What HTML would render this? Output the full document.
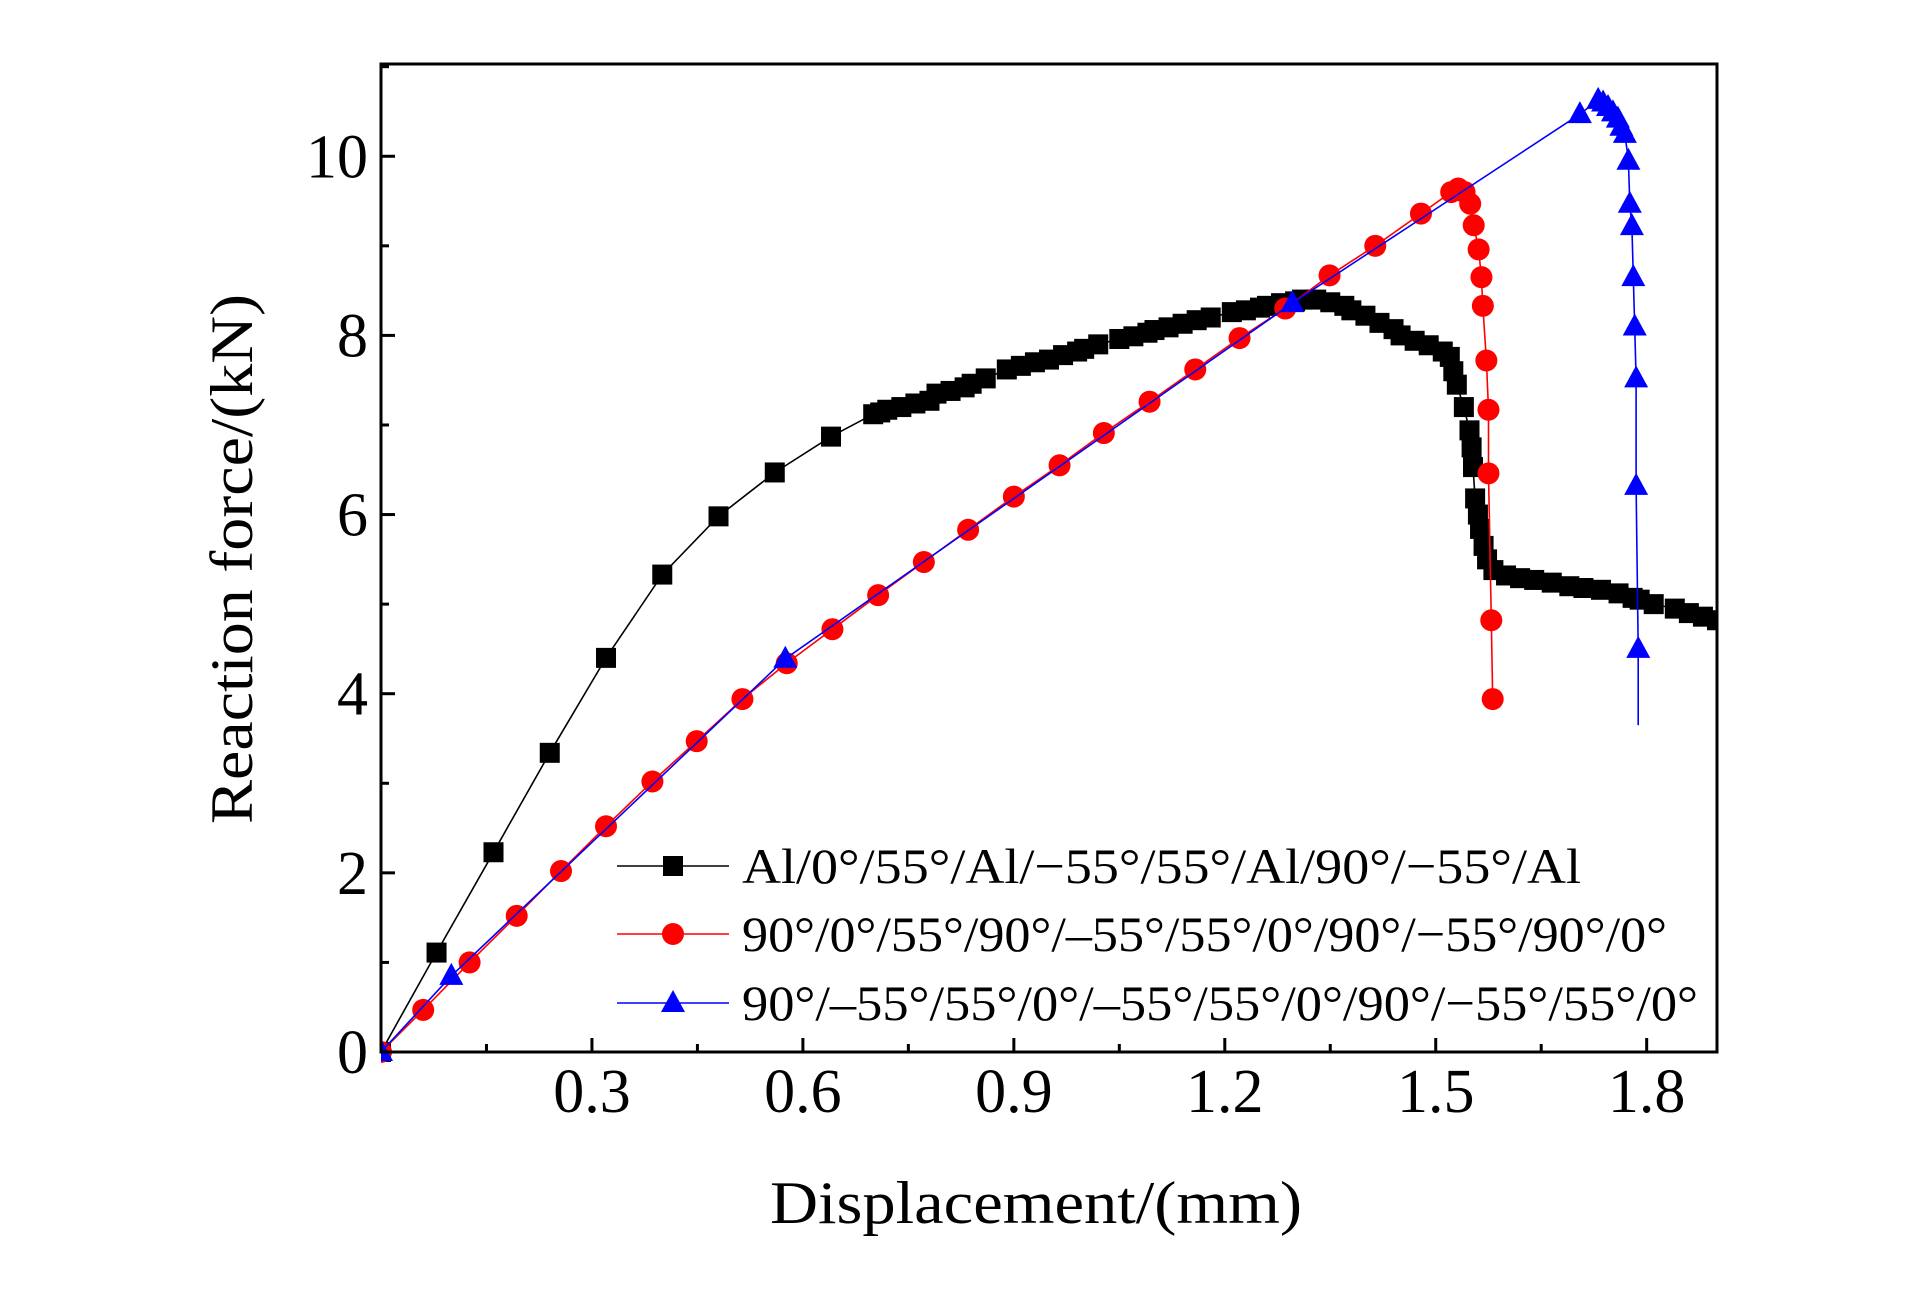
<!DOCTYPE html>
<html><head><meta charset="utf-8">
<style>
html,body{margin:0;padding:0;background:#fff;}
svg{display:block;}
text{font-family:"Liberation Serif","DejaVu Serif",serif;fill:#000;}
</style></head>
<body>
<svg id="chart" width="1923" height="1299" viewBox="0 0 1923 1299" xmlns="http://www.w3.org/2000/svg">
<rect x="0" y="0" width="1923" height="1299" fill="#fff"/>
<g id="grid-layer"></g>
<g id="series-layer"></g>
<g id="axis-layer"></g>
<g id="legend-layer"></g>
</svg>
<script>
const xTicks = [0.3, 0.6, 0.9, 1.2, 1.5, 1.8];
const xTickLabels = ["0.3", "0.6", "0.9", "1.2", "1.5", "1.8"];
const yTicks = [0, 2, 4, 6, 8, 10];
const yTickLabels = ["0", "2", "4", "6", "8", "10"];
const seriesNames = ["Al/0°/55°/Al/−55°/55°/Al/90°/−55°/Al", "90°/0°/55°/90°/–55°/55°/0°/90°/−55°/90°/0°", "90°/–55°/55°/0°/–55°/55°/0°/90°/−55°/55°/0°"];
const blackX = [0,0.079,0.16,0.24,0.32,0.40,0.48,0.56,0.64,0.70,0.71,0.72,0.74,0.76,0.78,0.79,0.81,0.83,0.84,0.86,0.89,0.91,0.93,0.95,0.97,0.99,1.00,1.02,1.05,1.07,1.09,1.10,1.12,1.14,1.16,1.18,1.21,1.23,1.25,1.26,1.28,1.30,1.31,1.33,1.35,1.37,1.38,1.40,1.42,1.44,1.45,1.47,1.49,1.51,1.52,1.525,1.53,1.54,1.548,1.551,1.553,1.556,1.56,1.563,1.568,1.573,1.582,1.60,1.62,1.64,1.665,1.69,1.71,1.735,1.76,1.78,1.79,1.81,1.84,1.86,1.88,1.90];
const blackY = [0,1.11,2.23,3.34,4.40,5.33,5.98,6.47,6.87,7.12,7.14,7.17,7.2,7.24,7.27,7.35,7.38,7.42,7.46,7.52,7.62,7.66,7.7,7.73,7.78,7.82,7.85,7.9,7.96,7.99,8.03,8.06,8.09,8.13,8.17,8.2,8.26,8.28,8.31,8.33,8.36,8.38,8.40,8.40,8.37,8.33,8.28,8.22,8.14,8.07,8.0,7.94,7.89,7.82,7.76,7.6,7.45,7.2,6.94,6.75,6.53,6.18,6.0,5.84,5.65,5.5,5.38,5.32,5.29,5.27,5.24,5.2,5.18,5.16,5.12,5.07,5.05,5.0,4.95,4.9,4.86,4.82];
const redX = [0,0.06,0.126,0.193,0.256,0.32,0.386,0.449,0.514,0.577,0.642,0.707,0.772,0.835,0.90,0.965,1.028,1.093,1.158,1.221,1.286,1.349,1.414,1.479,1.522,1.532,1.541,1.549,1.554,1.561,1.565,1.567,1.572,1.575,1.575,1.579,1.581];
const redY = [0,0.47,1.0,1.52,2.02,2.52,3.02,3.47,3.94,4.34,4.72,5.10,5.47,5.83,6.20,6.55,6.91,7.26,7.62,7.97,8.30,8.67,9.0,9.36,9.60,9.64,9.60,9.47,9.23,8.96,8.65,8.33,7.72,7.17,6.46,4.82,3.94];
const blueX = [0,0.10,0.575,1.296,1.705,1.731,1.738,1.745,1.752,1.759,1.764,1.769,1.774,1.776,1.779,1.781,1.783,1.785,1.785,1.788,1.788];
const blueY = [0,0.85,4.39,8.36,10.47,10.63,10.6,10.55,10.49,10.42,10.33,10.25,9.95,9.47,9.22,8.65,8.10,7.52,6.32,4.5,3.65];
const blueMarkerCount = 20;

const L = 381, R = 1717, T = 64, B = 1052;
const XMIN = 0, XMAX = 1.9, YMIN = 0, YMAX = 11.03;
function sx(v){ return L + (v - XMIN) / (XMAX - XMIN) * (R - L); }
function sy(v){ return B - (v - YMIN) / (YMAX - YMIN) * (B - T); }
const NS = "http://www.w3.org/2000/svg";
function mk(tag, attrs, parent){
  const e = document.createElementNS(NS, tag);
  for (const k in attrs) e.setAttribute(k, attrs[k]);
  parent.appendChild(e);
  return e;
}
const series = document.getElementById('series-layer');
const axis = document.getElementById('axis-layer');
const legend = document.getElementById('legend-layer');

const clip = mk('clipPath', {id:'plotclip'}, document.getElementById('chart'));
mk('rect', {x:L, y:T-20, width:R-L, height:B-T+40}, clip);
series.setAttribute('clip-path', 'url(#plotclip)');

function drawMarker(type, cx, cy, color, parent){
  let e;
  if (type === 'square') {
    e = mk('rect', {x:cx-10, y:cy-10, width:20, height:20, fill:color}, parent);
  } else if (type === 'circle') {
    e = mk('circle', {cx:cx, cy:cy, r:11, fill:color}, parent);
  } else {
    e = mk('polygon', {points:`${cx},${cy-13} ${cx-12},${cy+9} ${cx+12},${cy+9}`, fill:color}, parent);
  }
  return e;
}
function drawSeries(xs, ys, color, type, name, nMarkers){
  const g = mk('g', {}, series);
  
  
  const pts = xs.map((x,i)=>sx(x).toFixed(1)+','+sy(ys[i]).toFixed(1)).join(' ');
  const line = mk('polyline', {points:pts, fill:'none', stroke:color, 'stroke-width':1.6}, g);
  
  
  for (let i = 0; i < nMarkers; i++) {
    const m = drawMarker(type, sx(xs[i]), sy(ys[i]), color, g);
    
    
  }
}
drawSeries(blackX, blackY, '#000', 'square', 'series-al-hybrid', blackX.length);
drawSeries(redX, redY, '#ff0000', 'circle', 'series-90-0-55', redX.length);
drawSeries(blueX, blueY, '#0000ff', 'triangle', 'series-90-neg55-55', blueMarkerCount);

const frame = mk('rect', {x:L, y:T, width:R-L, height:B-T, fill:'none', stroke:'#000', 'stroke-width':3}, axis);



xTicks.forEach((v,i)=>{
  const x = sx(v);
  const t = mk('line', {x1:x, y1:B, x2:x, y2:B-14, stroke:'#000', 'stroke-width':3}, axis);
  
  
  const m = mk('line', {x1:sx(v-0.15), y1:B, x2:sx(v-0.15), y2:B-8, stroke:'#000', 'stroke-width':3}, axis);
  
  
  const lb = mk('text', {x:x, y:1112, 'font-size':62, 'text-anchor':'middle'}, axis);
  lb.textContent = xTickLabels[i];
  
  
});
yTicks.forEach((v,i)=>{
  const y = sy(v);
  const t = mk('line', {x1:L, y1:y, x2:L+14, y2:y, stroke:'#000', 'stroke-width':3}, axis);
  
  
  if (v + 1 < YMAX) {
    const m = mk('line', {x1:L, y1:sy(v+1), x2:L+8, y2:sy(v+1), stroke:'#000', 'stroke-width':3}, axis);
    
    
  }
  const lb = mk('text', {x:368, y:y+21, 'font-size':62, 'text-anchor':'end'}, axis);
  lb.textContent = yTickLabels[i];
  
  
});
const xt = mk('text', {x:1036, y:1223, 'font-size':60, 'text-anchor':'middle', textLength:532, lengthAdjust:'spacingAndGlyphs'}, axis);
xt.textContent = 'Displacement/(mm)';


const yt = mk('text', {x:0, y:0, 'font-size':60, 'text-anchor':'middle', textLength:530, lengthAdjust:'spacingAndGlyphs', transform:'translate(252,559) rotate(-90)'}, axis);
yt.textContent = 'Reaction force/(kN)';



const legColors = ['#000', '#ff0000', '#0000ff'];
const legTypes = ['square', 'circle', 'triangle'];
const legRows = [866, 934, 1003];
const legWidths = [839, 925, 956];
seriesNames.forEach((n,i)=>{
  const g = mk('g', {}, legend);
  
  
  const y = legRows[i];
  mk('line', {x1:617, y1:y, x2:729, y2:y, stroke:legColors[i], 'stroke-width':1.6}, g);
  drawMarker(legTypes[i], 673, y, legColors[i], g);
  const tx = mk('text', {x:742, y:y+17, 'font-size':50, textLength:legWidths[i], lengthAdjust:'spacingAndGlyphs'}, g);
  tx.textContent = n;
  
  
});
</script>
</body></html>
